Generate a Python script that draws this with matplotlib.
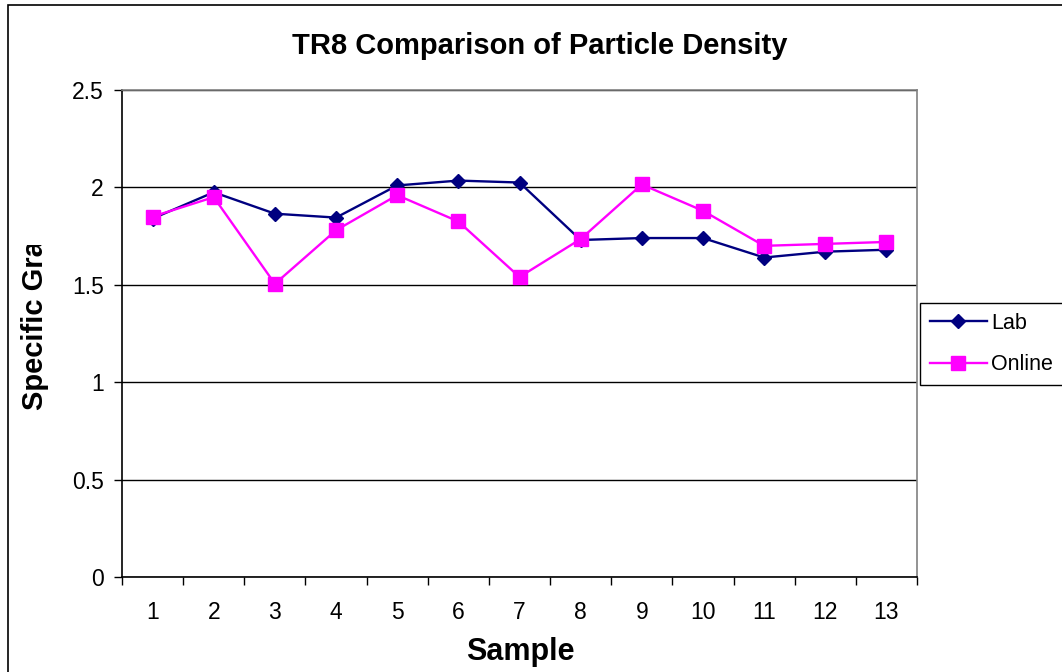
import matplotlib
matplotlib.use("Agg")
import matplotlib.pyplot as plt
from matplotlib.patches import Rectangle
from matplotlib.ticker import FixedLocator, MultipleLocator, NullFormatter, FuncFormatter

plt.rcParams['font.family'] = ['Liberation Sans', 'DejaVu Sans']

samples = [1, 2, 3, 4, 5, 6, 7, 8, 9, 10, 11, 12, 13]
lab = [1.84, 1.975, 1.865, 1.845, 2.01, 2.035, 2.025, 1.73, 1.74, 1.74, 1.64, 1.67, 1.68]
online = [1.85, 1.95, 1.505, 1.78, 1.96, 1.825, 1.54, 1.735, 2.015, 1.88, 1.70, 1.71, 1.72]

W, H = 1062, 672
fig = plt.figure(figsize=(W / 100, H / 100), dpi=100)

def px(x0, y0, x1, y1):
    return [x0 / W, 1 - y1 / H, (x1 - x0) / W, (y1 - y0) / H]

ax = fig.add_axes(px(122, 90, 917, 577))

# figure border
fig.patches.append(Rectangle((8 / W, -0.1), 1.2, 1 - 5 / H + 0.1,
                             transform=fig.transFigure, fill=False,
                             edgecolor='black', linewidth=1.2))

ax.plot(samples, lab, color='#000080', marker='D', markersize=7.5,
        linewidth=1.7, label='Lab', zorder=3)
ax.plot(samples, online, color='#FF00FF', marker='s', markersize=9.5,
        linewidth=1.7, label='Online', zorder=4)

ax.set_xlim(0.5, 13.5)
ax.set_ylim(0, 2.5)
ax.yaxis.set_major_locator(MultipleLocator(0.5))
ax.yaxis.set_major_formatter(FuncFormatter(lambda v, p: f"{v:g}"))
ax.grid(axis='y', color='black', linewidth=1.0)
ax.set_axisbelow(True)

ax.xaxis.set_major_locator(FixedLocator(samples))
ax.xaxis.set_minor_locator(FixedLocator([i + 0.5 for i in range(0, 14)]))
ax.xaxis.set_minor_formatter(NullFormatter())
ax.tick_params(axis='x', which='major', length=0, pad=17, labelsize=16.5)
ax.tick_params(axis='x', which='minor', length=6, width=1, color='black')
ax.tick_params(axis='y', length=6, width=1, color='black', labelsize=16.5, pad=7)

for s in ['top', 'right']:
    ax.spines[s].set_color('#808080')
    ax.spines[s].set_linewidth(1.2)
for s in ['left', 'bottom']:
    ax.spines[s].set_color('black')
    ax.spines[s].set_linewidth(1.2)

fig.text(540 / W, 1 - 46 / H, 'TR8 Comparison of Particle Density',
         ha='center', va='center', fontsize=21, fontweight='bold')
fig.text(520 / W, 1 - 652 / H, 'Sample', ha='center', va='center',
         fontsize=22, fontweight='bold')

clip_rect = Rectangle((0, 0), 1, 1 - 245 / H, transform=fig.transFigure,
                      visible=False)
fig.patches.append(clip_rect)
yl = fig.text(35 / W, 1 - 410 / H, 'Specific Gravity', rotation=90,
              ha='center', va='bottom', fontsize=21, fontweight='bold')
yl.set_clip_path(clip_rect)
yl.set_clip_on(True)

leg = fig.legend(loc='upper left', bbox_to_anchor=(920 / W, 1 - 303 / H),
                 fontsize=15.5, frameon=True, fancybox=False, framealpha=1,
                 edgecolor='black', handlelength=2.65, borderpad=0.45,
                 labelspacing=0.95, handletextpad=0.2, borderaxespad=0)
leg.get_frame().set_linewidth(1.0)

fig.savefig('out.png', dpi=100)
